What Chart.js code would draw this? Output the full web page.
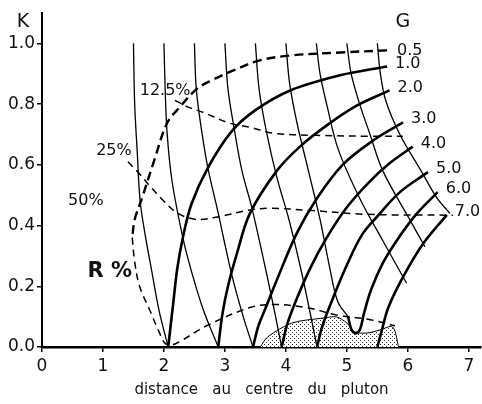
<!DOCTYPE html>
<html>
<head>
<meta charset="utf-8">
<script src="https://cdn.jsdelivr.net/npm/chart.js@4.4.0/dist/chart.umd.min.js"></script>
<style>
  html, body { margin: 0; padding: 0; background: #fff; }
</style>
</head>
<body>
<canvas id="chart" width="482" height="404"></canvas>
<script>
// ---- axes ----
const xTicks = [0, 1, 2, 3, 4, 5, 6, 7];
const yTicks = [0, 0.2, 0.4, 0.6, 0.8, 1.0];

// ---- G curves (thick), points [distance, K] ----
const gLabels = ['1.0', '2.0', '3.0', '4.0', '5.0', '6.0', '7.0'];
const g1 = [[2.07,0],[2.15,0.14],[2.22,0.26],[2.31,0.36],[2.45,0.47],[2.72,0.59],[3.11,0.71],[3.5,0.78],[4.07,0.845],[4.89,0.895],[5.66,0.924]];
const g2 = [[2.89,0],[2.96,0.11],[3.05,0.2],[3.2,0.31],[3.41,0.44],[3.85,0.58],[4.23,0.66],[4.67,0.73],[5.16,0.795],[5.70,0.845]];
const g3 = [[3.46,0],[3.55,0.07],[3.65,0.12],[3.85,0.22],[4.18,0.375],[4.51,0.49],[4.93,0.6],[5.43,0.68],[5.92,0.74]];
const g4 = [[3.93,0],[4.03,0.08],[4.18,0.16],[4.4,0.26],[4.67,0.36],[5.0,0.46],[5.35,0.54],[5.7,0.605],[6.08,0.66]];
const g5 = [[4.51,0],[4.6,0.07],[4.77,0.16],[5.0,0.27],[5.25,0.37],[5.5,0.43],[5.87,0.51],[6.33,0.576]];
const g6 = [[5.02,0.1],[5.08,0.055],[5.15,0.045],[5.22,0.06],[5.28,0.11],[5.4,0.19],[5.6,0.28],[5.85,0.36],[6.15,0.44],[6.49,0.51]];
const g7 = [[5.5,0],[5.58,0.06],[5.68,0.13],[5.92,0.23],[6.25,0.34],[6.64,0.435]];
const gHalf = [[5.66,0.977],[4.89,0.97],[4.07,0.96],[3.57,0.944],[3.13,0.91],[2.8,0.88],[2.54,0.85],[2.26,0.79],[2.05,0.737],[1.85,0.62],[1.64,0.49],[1.52,0.42],[1.48,0.36]];

// ---- thin curves starting at K = 1.0 ----
const t1 = [[1.5,1.0],[1.52,0.8],[1.56,0.65],[1.61,0.48],[1.70,0.36],[1.80,0.25],[1.92,0.12],[2.07,0]];
const t2 = [[2.0,1.0],[2.02,0.85],[2.05,0.71],[2.13,0.55],[2.31,0.36],[2.45,0.25],[2.65,0.12],[2.89,0]];
const t3 = [[2.5,1.0],[2.53,0.85],[2.62,0.71],[2.72,0.59],[2.88,0.45],[3.11,0.24],[3.3,0.1],[3.46,0]];
const t4 = [[3.0,1.0],[3.05,0.85],[3.16,0.71],[3.28,0.58],[3.44,0.46],[3.62,0.3],[3.78,0.15],[3.93,0]];
const t5 = [[3.5,1.0],[3.56,0.85],[3.68,0.71],[3.85,0.56],[4.05,0.42],[4.23,0.27],[4.38,0.13],[4.51,0]];
const t6 = [[4.0,1.0],[4.06,0.87],[4.18,0.74],[4.37,0.58],[4.56,0.42],[4.72,0.26],[4.85,0.15],[5.02,0.1]];
const t7 = [[4.5,1.0],[4.56,0.9],[4.68,0.79],[4.86,0.65],[5.21,0.49],[5.59,0.35],[5.98,0.21]];
const t8 = [[5.0,1.0],[5.07,0.9],[5.21,0.8],[5.38,0.70],[5.59,0.58],[6.03,0.42],[6.28,0.33]];
const t9 = [[5.5,1.0],[5.55,0.9],[5.64,0.81],[5.87,0.70],[6.23,0.576],[6.48,0.49],[6.69,0.44]];

// ---- R % curves (dashed) ----
const r125 = [[2.18,0.8125],[2.4,0.79],[2.64,0.773],[3.08,0.737],[3.41,0.724],[3.79,0.704],[4.5,0.697],[5.43,0.694],[5.92,0.694]];
const r25 = [[1.41,0.61],[1.6,0.57],[1.77,0.53],[2.0,0.48],[2.23,0.44],[2.54,0.42],[2.92,0.43],[3.38,0.45],[3.74,0.457],[4.39,0.45],[5.33,0.437],[6.74,0.434]];
const r50 = [[1.48,0.36],[1.52,0.28],[1.6,0.2],[1.77,0.12],[1.92,0.05],[2.03,0.01],[2.18,0.01],[2.7,0.07],[3.41,0.13],[3.79,0.14],[4.34,0.13],[4.84,0.105],[5.38,0.09],[5.79,0.07]];

// ---- stippled zone ----
const zone = [[3.58,0],[3.7,0.033],[4.1,0.079],[4.6,0.095],[4.83,0.099],[5.0,0.079],[5.13,0.05],[5.33,0.046],[5.54,0.056],[5.75,0.066],[5.85,0]];

// free text on the plot
const notes = [
  { text: '12.5%', x: 2.02, y: 0.842, size: 16 },
  { text: '25%', x: 1.18, y: 0.645, size: 16 },
  { text: '50%', x: 0.72, y: 0.48, size: 16 },
  { text: 'R %', x: 1.11, y: 0.25, size: 21, bold: true },
  { text: 'G', x: 5.92, y: 1.07, size: 19 },
  { text: 'K', x: -0.31, y: 1.07, size: 19 }
];

const FONT = '"DejaVu Sans", sans-serif';

function pts(arr) { return arr.map(p => ({ x: p[0], y: p[1] })); }

function stipplePattern() {
    const c = document.createElement('canvas');
    c.width = 4; c.height = 4;
    const g = c.getContext('2d');
    g.fillStyle = '#fff';
    g.fillRect(0, 0, 4, 4);
    g.fillStyle = '#333';
    g.fillRect(0, 0, 1, 1);
    g.fillRect(2, 2, 1, 1);
    return g.createPattern(c, 'repeat');
}

const datasets = [];
[g1, g2, g3, g4, g5, g6, g7].forEach((d, i) => datasets.push({
    label: 'G ' + gLabels[i], data: pts(d), borderColor: '#000', borderWidth: 2.6, tension: 0.35
}));
datasets.push({ label: 'G 0.5', data: pts(gHalf), borderColor: '#000', borderWidth: 2.4, borderDash: [9, 5], tension: 0.35 });
[t1, t2, t3, t4, t5, t6, t7, t8, t9].forEach((d, i) => datasets.push({
    label: 'T' + (i + 1), data: pts(d), borderColor: '#000', borderWidth: 1.3, tension: 0.35
}));
[r125, r25, r50].forEach((d, i) => datasets.push({
    label: ['12.5%', '25%', '50%'][i], data: pts(d), borderColor: '#000', borderWidth: 1.5, borderDash: [7, 5], tension: 0.35
}));
datasets.push({
    label: 'zone', data: pts(zone), borderColor: '#000', borderWidth: 1, tension: 0.3,
    fill: 'origin', backgroundColor: stipplePattern(), order: 10
});

// labels at curve ends and free notes
const labelPlugin = {
    id: 'curveLabels',
    afterDraw(chart) {
        const { ctx, scales: { x, y } } = chart;
        ctx.save();
        ctx.fillStyle = '#111';
        ctx.textBaseline = 'middle';
        ctx.textAlign = 'left';
        ctx.font = '16px ' + FONT;
        [g1, g2, g3, g4, g5, g6, g7].forEach((d, i) => {
            const p = d[d.length - 1];
            ctx.fillText(gLabels[i], x.getPixelForValue(p[0]) + 8, y.getPixelForValue(p[1]) - 3);
        });
        ctx.fillText('0.5', x.getPixelForValue(gHalf[0][0]) + 10, y.getPixelForValue(gHalf[0][1]));
        ctx.textAlign = 'center';
        notes.forEach(n => {
            ctx.font = (n.bold ? 'bold ' : '') + n.size + 'px ' + FONT;
            ctx.fillText(n.text, x.getPixelForValue(n.x), y.getPixelForValue(n.y));
        });
        ctx.restore();
    }
};

new Chart(document.getElementById('chart'), {
    type: 'scatter',
    data: { datasets },
    options: {
        responsive: false,
        animation: false,
        showLine: true,
        elements: { point: { radius: 0, hoverRadius: 0 } },
        layout: { padding: { top: 13, right: 1, left: 0, bottom: 0 } },
        plugins: { legend: { display: false }, tooltip: { enabled: false } },
        scales: {
            x: {
                type: 'linear', min: 0, max: 7.2,
                afterBuildTicks: s => { s.ticks = xTicks.map(v => ({ value: v })); },
                afterFit: s => { s.height = 57; },
                grid: { drawOnChartArea: false, drawTicks: true, tickLength: 5, color: '#000', lineWidth: 1.5 },
                border: { display: true, color: '#000', width: 2.5, dash: [1.5, 1] },
                ticks: { color: '#111', font: { family: FONT, size: 17 }, padding: 4, callback: v => String(v) },
                title: { display: true, text: 'distance   au   centre   du   pluton', color: '#111',
                         font: { family: FONT, size: 15 }, padding: { top: 0, bottom: 5 } }
            },
            y: {
                type: 'linear', min: 0, max: 1.1,
                afterBuildTicks: s => { s.ticks = yTicks.map(v => ({ value: v })); },
                afterFit: s => { s.width = 42; },
                grid: { drawOnChartArea: false, drawTicks: true, tickLength: 5, color: '#000', lineWidth: 1.5 },
                border: { display: true, color: '#000', width: 2 },
                ticks: { color: '#111', font: { family: FONT, size: 17 }, padding: 2, callback: v => v.toFixed(1) }
            }
        }
    },
    plugins: [labelPlugin]
});
</script>
</body>
</html>
